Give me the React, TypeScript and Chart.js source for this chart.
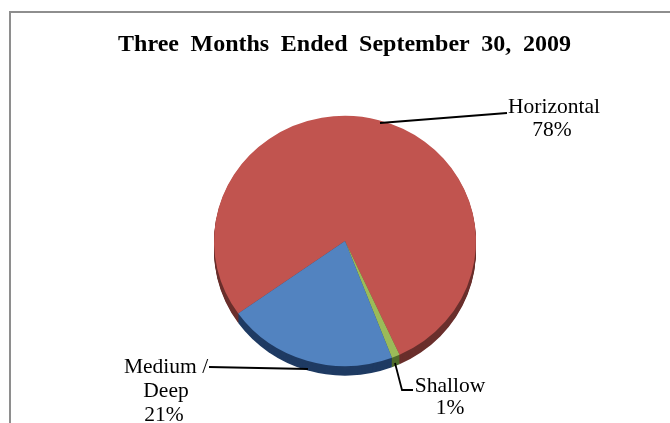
import React, { useEffect, useRef } from "react";
import { Chart, registerables } from "chart.js";

Chart.register(...registerables);

const chartTitle = "Three Months Ended September 30, 2009";
const categories = ["Horizontal", "Shallow", "Medium / Deep"];
const shares = [78, 1, 21];
const topColors = ["#C1544F", "#9BBB59", "#5283C0"];
const sideColors = ["#6A2F2C", "#4F6B2A", "#1F3B63"];

const SERIF = '"Liberation Serif", serif';
const SQUASH = 0.955;
const DEPTH = 10;

const piePlugin = {
  id: "pie3d",
  beforeDatasetsDraw(chart: any) {
    const { ctx } = chart;
    const arcs = chart.getDatasetMeta(0).data;
    const cy = arcs[0].y;
    ctx.save();
    ctx.translate(0, cy);
    ctx.scale(1, SQUASH);
    ctx.translate(0, -cy);
    for (let d = DEPTH; d >= 1; d--) {
      arcs.forEach((a: any, i: number) => {
        ctx.fillStyle = sideColors[i];
        ctx.beginPath();
        ctx.moveTo(a.x, a.y + d);
        ctx.arc(a.x, a.y + d, a.outerRadius, a.startAngle, a.endAngle);
        ctx.closePath();
        ctx.fill();
      });
    }
  },
  afterDatasetsDraw(chart: any) {
    chart.ctx.restore();
  },
};

const annotationPlugin = {
  id: "annotations",
  beforeDraw(chart: any) {
    const { ctx, width, height } = chart;
    ctx.save();
    ctx.strokeStyle = "#8E8E8E";
    ctx.lineWidth = 2;
    ctx.beginPath();
    ctx.moveTo(10, height);
    ctx.lineTo(10, 12);
    ctx.lineTo(width, 12);
    ctx.stroke();
    ctx.restore();
  },
  afterDraw(chart: any) {
    const { ctx } = chart;
    ctx.save();
    ctx.strokeStyle = "#000";
    ctx.lineWidth = 1.8;
    const leaders = [
      [[380, 123], [507, 113]],
      [[395, 363], [402, 390], [413, 390]],
      [[209, 367], [308, 369]],
    ];
    leaders.forEach((pts) => {
      ctx.beginPath();
      pts.forEach(([x, y], i) => (i ? ctx.lineTo(x, y) : ctx.moveTo(x, y)));
      ctx.stroke();
    });
    ctx.fillStyle = "#000";
    ctx.textAlign = "center";
    ctx.textBaseline = "middle";

    ctx.font = `bold 24px ${SERIF}`;
    ctx.wordSpacing = "5.6px";
    ctx.fillText(chartTitle, 344.5, 45);
    ctx.wordSpacing = "0px";

    ctx.font = `21.5px ${SERIF}`;
    const pct = shares.map((s) => `${s}%`);
    ctx.fillText(categories[0], 554, 107);
    ctx.fillText(pct[0], 552, 130);
    ctx.fillText(categories[1], 450, 386);
    ctx.fillText(pct[1], 450, 408);
    const [m1, m2] = categories[2].split(" / ");
    ctx.fillText(`${m1} /`, 166, 367);
    ctx.fillText(m2, 166, 391);
    ctx.fillText(pct[2], 164, 415);
    ctx.restore();
  },
};

export default function App() {
  const ref = useRef<HTMLCanvasElement>(null);
  useEffect(() => {
    document.body.style.margin = "0";
    const chart = new Chart(ref.current!, {
      type: "pie",
      data: {
        labels: categories,
        datasets: [
          {
            data: shares,
            backgroundColor: topColors,
            borderWidth: 0,
            clip: false,
          } as any,
        ],
      },
      options: {
        responsive: false,
        animation: false,
        rotation: 234.6,
        layout: { padding: { left: 214, right: 194, top: 110, bottom: 51 } },
        plugins: {
          legend: { display: false },
          tooltip: { enabled: false },
          title: { display: false },
        },
      },
      plugins: [piePlugin, annotationPlugin],
    });
    return () => chart.destroy();
  }, []);
  return <canvas ref={ref} width={670} height={423} style={{ display: "block" }} />;
}
